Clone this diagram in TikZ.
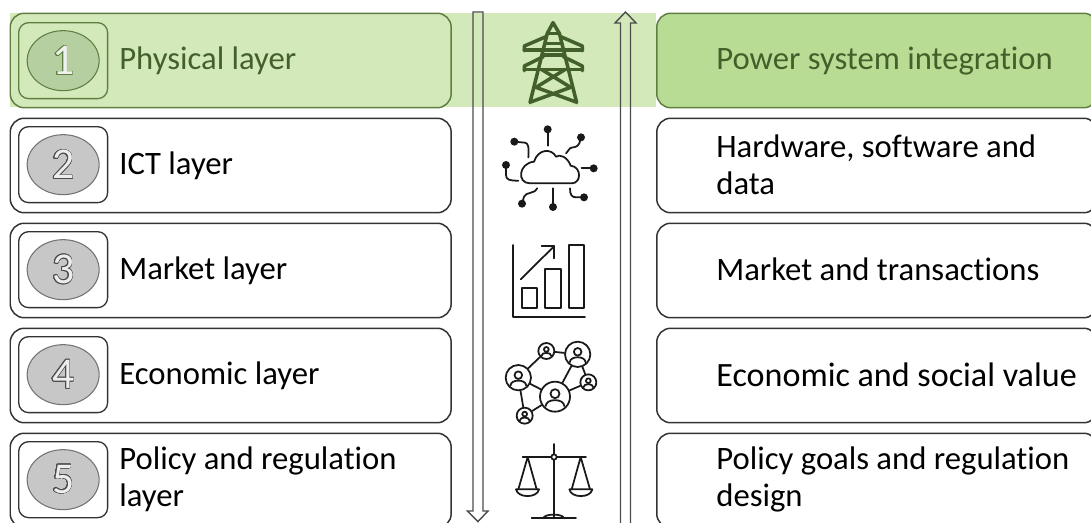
\documentclass[tikz,border=0pt]{standalone}
\usepackage{fontspec}
\setmainfont{Carlito}[RawFeature={-liga}]
\usepackage{contour}
\usetikzlibrary{positioning,shapes.geometric}
\definecolor{bandgreen}{HTML}{D3E9B9}
\definecolor{headgreen}{HTML}{B9DC95}
\definecolor{darkgreen}{HTML}{43602A}
\definecolor{edgegreen}{HTML}{5F7F41}
\definecolor{ovalgreen}{HTML}{B5CFA0}
\contourlength{0.3pt}
\contournumber{32}
\newcommand{\layernum}[2]{\contour{#1}{\textcolor{white!90!#1}{#2}}}
\tikzset{
	layerbox/.style={draw=black!80, line width=0.85pt, rounded corners=0.28cm, anchor=north west, minimum width=8.82cm, minimum height=1.89cm, inner sep=0pt},
	numberbox/.style={draw=black!80, line width=0.75pt, rounded corners=0.2cm, anchor=north west, minimum width=1.78cm, minimum height=1.52cm, inner sep=0pt},
	numberoval/.style={draw=black!55, fill=black!22, line width=0.6pt, ellipse, minimum width=1.44cm, minimum height=1.2cm, inner sep=0pt, font=\fontsize{25}{25}\selectfont},
	layertext/.style={anchor=west, align=left, inner sep=0pt, font=\fontsize{18.6}{21}\selectfont},
	icon/.style={line width=1pt, black!90, line cap=round, line join=round},
	netperson/.style={circle, draw, inner sep=0pt, line width=1pt},
}
\begin{document}
\begin{tikzpicture}[x=0.02cm, y=-0.02cm]
		\clip (0, 0) rectangle (1091, 522);
		
		% green band behind the first row
		\fill[bandgreen] (9.5, 12.5) rectangle (656, 107);
		
		% left column
		\node[layerbox, draw=edgegreen, fill=bandgreen] (layerA) at (9.5, 12.5) {};
		\node[layerbox] (layerB) at (9.5, 117.5) {};
		\node[layerbox] (layerC) at (9.5, 222.5) {};
		\node[layerbox] (layerD) at (9.5, 327.5) {};
		\node[layerbox] (layerE) at (9.5, 432.5) {};
		
		\node[numberbox, draw=edgegreen] (boxA) at (18, 22) {};
		\node[numberbox] (boxB) at (18, 126) {};
		\node[numberbox] (boxC) at (18, 231) {};
		\node[numberbox] (boxD) at (18, 336) {};
		\node[numberbox] (boxE) at (18, 441) {};
		
		\node[numberoval, draw=edgegreen, fill=ovalgreen] (ovalA) at (boxA.center) {\layernum{edgegreen}{1}};
		\node[numberoval] (ovalB) at (boxB.center) {\layernum{black!70}{2}};
		\node[numberoval] (ovalC) at (boxC.center) {\layernum{black!70}{3}};
		\node[numberoval] (ovalD) at (boxD.center) {\layernum{black!70}{4}};
		\node[numberoval] (ovalE) at (boxE.center) {\layernum{black!70}{5}};
		
		\node[layertext, text=darkgreen] (nameA) at (119, 61) {Physical layer};
		\node[layertext] (nameB) at (119, 166) {ICT layer};
		\node[layertext] (nameC) at (119, 271) {Market layer};
		\node[layertext] (nameD) at (119, 376) {Economic layer};
		\node[layertext] (nameE) at (119, 479) {Policy and regulation\\layer};
		
		% right column
		\node[layerbox, draw=edgegreen, fill=headgreen] (goalA) at (656, 12.5) {};
		\node[layerbox] (goalB) at (656, 117.5) {};
		\node[layerbox] (goalC) at (656, 222.5) {};
		\node[layerbox] (goalD) at (656, 327.5) {};
		\node[layerbox] (goalE) at (656, 432.5) {};
		
		\node[layertext, text=darkgreen] (textA) at (716, 61) {Power system integration};
		\node[layertext] (textB) at (716, 165) {Hardware, software and\\data};
		\node[layertext] (textC) at (716, 269) {Market and transactions};
		\node[layertext, font=\fontsize{19.4}{21}\selectfont] (textD) at (716, 375) {Economic and social value};
		\node[layertext] (textE) at (716, 479) {Policy goals and regulation\\design};
		
		% hollow arrows
		\draw[line width=0.8pt, black!70] (473, 12) -- (483, 12) -- (483, 511) -- (488, 511) -- (478, 521.5) -- (467.5, 511) -- (473, 511) -- cycle;
		\draw[line width=0.8pt, black!70] (620.5, 530) -- (620.5, 23) -- (615, 23) -- (625.5, 12) -- (636, 23) -- (630.5, 23) -- (630.5, 530);
		
		% tower
		\begin{scope}[shift={(460, 0)}, scale=1/3, line width=2pt, darkgreen, line cap=round, line join=round]
			\draw (210, 308) -- (262, 100) -- (279, 68) -- (298, 100) -- (350, 308);
			\draw (262, 100) -- (298, 100);
			\draw (255, 130) -- (305, 130);
			\draw (250, 165) -- (310, 165);
			\draw (193, 152) -- (193, 138) -- (258, 110);
			\draw (367, 152) -- (367, 138) -- (302, 110);
			\draw (193, 150) -- (367, 150);
			\draw (193, 212) -- (193, 198) -- (250, 170);
			\draw (367, 212) -- (367, 198) -- (310, 170);
			\draw (193, 208) -- (367, 208);
			\draw (244, 208) -- (332, 262) -- (212, 306);
			\draw (316, 208) -- (228, 262) -- (348, 306);
		\end{scope}
		
		% cloud
		\begin{scope}[shift={(460, 0)}, scale=1/3, icon]
			\draw (210, 550) -- (335, 550) .. controls (365, 550) and (365, 500) .. (332, 497)
				.. controls (322, 470) and (300, 462) .. (288, 470)
				.. controls (275, 445) and (235, 445) .. (222, 485)
				.. controls (175, 490) and (170, 550) .. (210, 550);
			\draw (263, 388) -- (263, 437);
			\draw (163, 425) -- (195, 428) .. controls (205, 430) and (207, 440) .. (205, 472);
			\draw (363, 412) -- (358, 430) .. controls (352, 445) and (335, 440) .. (330, 445) -- (318, 460);
			\draw (401, 505) -- (365, 505);
			\draw (138, 495) -- (138, 525) .. controls (138, 540) and (150, 542) .. (175, 542);
			\draw (186, 611) -- (192, 590) .. controls (198, 575) and (225, 582) .. (232, 565);
			\draw (279, 621) -- (279, 565);
			\draw (372, 592) -- (350, 592) .. controls (335, 592) and (330, 585) .. (330, 565);
			\foreach \dotx/\doty in {263/388, 163/425, 363/412, 401/505, 138/495, 186/611, 279/621, 372/592}
				\fill (\dotx, \doty) circle (12);
		\end{scope}
		
		% chart
		\begin{scope}[shift={(460, 220)}, scale=1/3, icon]
			\draw (158, 75) -- (158, 290) -- (375, 290);
			\draw (185, 205) rectangle (232, 265);
			\draw (255, 148) rectangle (302, 265);
			\draw (326, 75) rectangle (373, 265);
			\draw (182, 178) -- (283, 78);
			\draw (245, 77) -- (283, 77) -- (283, 115);
		\end{scope}
		
		% people network
		\begin{scope}[shift={(460, 220)}, scale=1/3, icon]
			\foreach \who/\whox/\whoy/\whor in {netA/175/473/38, netB/259/393/24, netC/353/403/38, netD/385/487/24, netE/285/530/45, netF/194/587/24} {
				\node[netperson, minimum size={2*\whor*0.02/3*1cm}] (\who) at (\whox, \whoy) {};
				\draw (\whox, \whoy-0.2*\whor) circle ({0.3*\whor});
				\draw ({\whox-0.62*\whor}, \whoy+0.62*\whor) .. controls ({\whox-0.6*\whor}, \whoy+0.1*\whor) and ({\whox+0.6*\whor}, \whoy+0.1*\whor) .. ({\whox+0.62*\whor}, \whoy+0.62*\whor);
			}
			\draw (netA) -- (netB);
			\draw (netB) -- (netC);
			\draw (netC) -- (netE);
			\draw (netC) -- (netD);
			\draw (netD) -- (netE);
			\draw (netE) -- (netA);
			\draw (netA) -- (netF);
			\draw (netF) -- (netE);
		\end{scope}
		
		% scales
		\begin{scope}[shift={(460, 220)}, scale=1/3, icon]
			\draw (282, 672) -- (282, 895);
			\draw (215, 895) -- (348, 895);
			\draw (250, 895) .. controls (252, 880) and (310, 880) .. (312, 895);
			\draw (188, 711) -- (378, 711);
			\draw[fill=white] (282, 711) circle (8);
			\draw (175, 808) -- (203, 711) -- (230, 808);
			\draw (335, 808) -- (362, 711) -- (390, 808);
			\draw (168, 808) -- (237, 808) .. controls (232, 835) and (173, 835) .. (168, 808);
			\draw (328, 808) -- (397, 808) .. controls (392, 835) and (333, 835) .. (328, 808);
		\end{scope}
	\end{tikzpicture}
\end{document}
